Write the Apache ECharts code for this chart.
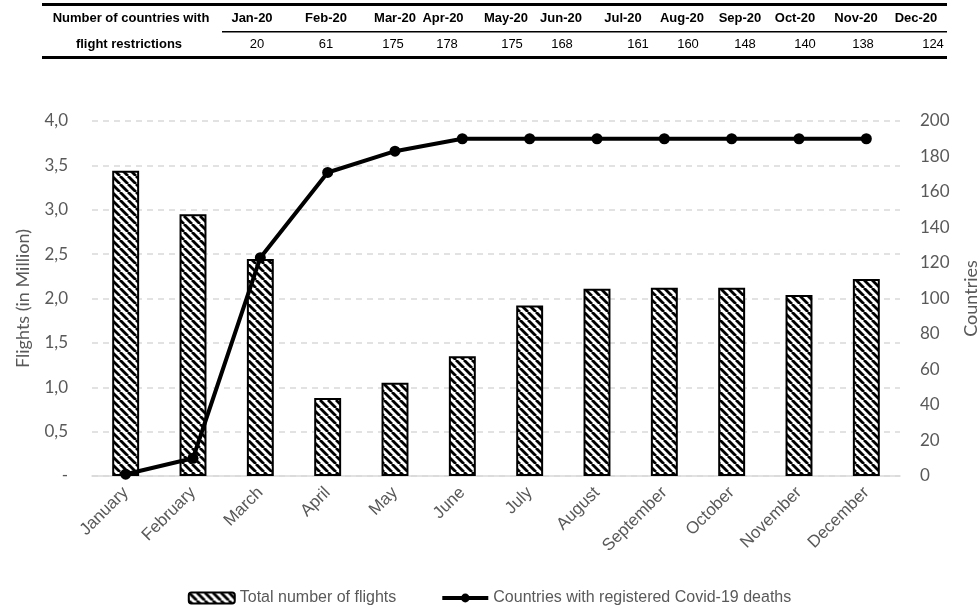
<!DOCTYPE html>
<html><head><meta charset="utf-8">
<script src="https://cdn.jsdelivr.net/npm/echarts@6/dist/echarts.min.js"></script>
<style>html,body{margin:0;padding:0;background:#fff;overflow:hidden}#c{width:979px;height:615px}</style>
</head><body><div id="c"></div>
<script>
// ---- data ----
const months = ['January','February','March','April','May','June','July','August','September','October','November','December'];
const flights = [3.44, 2.95, 2.445, 0.88, 1.05, 1.35, 1.92, 2.11, 2.12, 2.12, 2.04, 2.22];
const deathCountries = [1, 10, 123, 171, 183, 190, 190, 190, 190, 190, 190, 190];
const tableMonths = ['Jan-20','Feb-20','Mar-20','Apr-20','May-20','Jun-20','Jul-20','Aug-20','Sep-20','Oct-20','Nov-20','Dec-20'];
const restrictions = [20, 61, 175, 178, 175, 168, 161, 160, 148, 140, 138, 124];
const tableTitle = ['Number of countries with', 'flight restrictions'];
const seriesNames = ['Total number of flights', 'Countries with registered Covid-19 deaths'];

// ---- layout (positions only) ----
const headX = [252, 326, 395, 443, 506, 561, 623, 682, 740, 795, 856, 916];
const valX  = [257, 326, 393, 447, 512, 562, 638, 688, 745, 805, 863, 933];
const FONT = "'Liberation Sans', Arial, sans-serif";
const GRAY = '#595959';

function hatch(){
  const s = 8, c = document.createElement('canvas');
  c.width = s; c.height = s;
  const g = c.getContext('2d');
  g.fillStyle = '#fff'; g.fillRect(0,0,s,s);
  g.strokeStyle = '#000'; g.lineWidth = 2.8;
  for (const x0 of [-s, 0, s]) { g.beginPath(); g.moveTo(x0, 0); g.lineTo(x0 + s, s); g.stroke(); }
  return c;
}
const pattern = {image: hatch(), repeat: 'repeat'};

const graphics = [
  {type:'rect', shape:{x:42, y:3, width:905, height:3}, style:{fill:'#000'}},
  {type:'rect', shape:{x:222, y:31, width:725, height:1.5}, style:{fill:'#000'}},
  {type:'rect', shape:{x:42, y:56, width:905, height:3}, style:{fill:'#000'}},
  {type:'text', x:131, y:18, style:{text:tableTitle[0], font:'bold 13px '+FONT, fill:'#000', align:'center', verticalAlign:'middle'}},
  {type:'text', x:129, y:44, style:{text:tableTitle[1], font:'bold 13px '+FONT, fill:'#000', align:'center', verticalAlign:'middle'}}
];
tableMonths.forEach((m, i) => {
  graphics.push({type:'text', x:headX[i], y:18, style:{text:m, font:'bold 13px '+FONT, fill:'#000', align:'center', verticalAlign:'middle'}});
  graphics.push({type:'text', x:valX[i], y:44, style:{text:String(restrictions[i]), font:'13px '+FONT, fill:'#000', align:'center', verticalAlign:'middle'}});
});

const chart = echarts.init(document.getElementById('c'));
chart.setOption({
  animation: false,
  backgroundColor: '#fff',
  graphic: graphics,
  grid: {left: 92, right: 79, top: 121, bottom: 139, outerBoundsMode: 'none', containLabel: false},
  legend: {
    bottom: 4, left: 'center', itemWidth: 46, itemHeight: 11, itemGap: 44,
    textStyle: {color: GRAY, fontSize: 16, fontFamily: FONT},
    data: [
      {name: seriesNames[0]},
      {name: seriesNames[1], lineStyle: {width: 4, color: '#000'}, itemStyle: {color: '#000'}}
    ]
  },
  xAxis: {
    type: 'category', data: months,
    axisTick: {show: false},
    axisLine: {lineStyle: {color: '#d9d9d9', width: 1.5}},
    axisLabel: {rotate: 45, interval: 0, color: GRAY, fontSize: 17, fontFamily: FONT, margin: 14}
  },
  yAxis: [
    {
      type: 'value', min: 0, max: 4, interval: 0.5,
      name: 'Flights (in Million)', nameLocation: 'middle', nameGap: 60, nameRotate: 90,
      nameTextStyle: {color: GRAY, fontSize: 18, fontFamily: 'Lato, sans-serif'},
      axisLine: {show: false}, axisTick: {show: false},
      axisLabel: {color: GRAY, fontSize: 17, fontFamily: 'Lato, sans-serif', margin: 24,
        formatter: v => v === 0 ? '-' : v.toFixed(1).replace('.', ',')},
      splitLine: {lineStyle: {color: '#d9d9d9', width: 1.5, type: [6, 5]}}
    },
    {
      type: 'value', min: 0, max: 200, interval: 20,
      name: 'Countries', nameLocation: 'middle', nameGap: 62, nameRotate: 90,
      nameTextStyle: {color: GRAY, fontSize: 18, fontFamily: 'Lato, sans-serif'},
      axisLine: {show: false}, axisTick: {show: false},
      axisLabel: {color: GRAY, fontSize: 17, fontFamily: 'Lato, sans-serif', margin: 20},
      splitLine: {show: false}
    }
  ],
  series: [
    {
      name: seriesNames[0], type: 'bar', data: flights, barWidth: '40%',
      itemStyle: {color: pattern, borderColor: '#000', borderWidth: 2}
    },
    {
      name: seriesNames[1], type: 'line', yAxisIndex: 1, data: deathCountries,
      symbol: 'circle', symbolSize: 11, z: 5,
      itemStyle: {color: '#000'}, lineStyle: {color: '#000', width: 4}
    }
  ]
});
</script>
</body></html>
